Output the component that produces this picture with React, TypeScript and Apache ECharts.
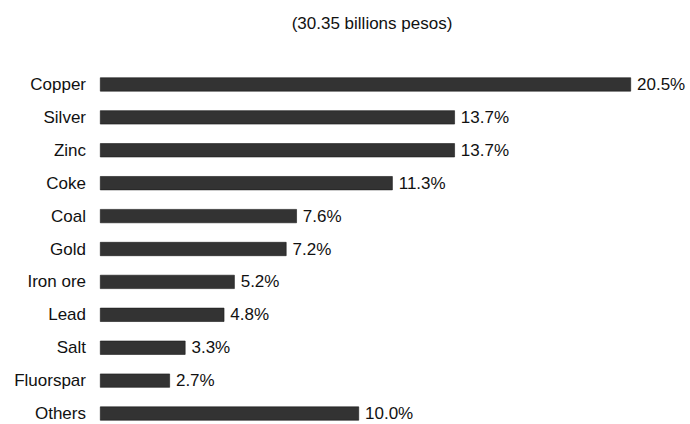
import React, { useEffect, useRef } from "react";
import * as echarts from "echarts";

const title = "(30.35 billions pesos)";
const categories = ["Copper", "Silver", "Zinc", "Coke", "Coal", "Gold", "Iron ore", "Lead", "Salt", "Fluorspar", "Others"];
const values = [20.5, 13.7, 13.7, 11.3, 7.6, 7.2, 5.2, 4.8, 3.3, 2.7, 10.0];

export default function App() {
  const ref = useRef<HTMLDivElement>(null);
  useEffect(() => {
    const chart = echarts.init(ref.current!, null, { renderer: "svg" });
    const font = "Liberation Sans, Arial, sans-serif";
    chart.setOption({
      animation: false,
      backgroundColor: "#fff",
      title: {
        text: title,
        left: 367,
        top: 10,
        textAlign: "center",
        textStyle: { fontFamily: font, fontSize: 17, fontWeight: "normal", color: "#111" },
      },
      grid: { left: 100, top: 68, width: 531, height: 362 },
      xAxis: { type: "value", min: 0, max: 20.5, show: false },
      yAxis: {
        type: "category",
        data: categories,
        inverse: true,
        axisLine: { show: false },
        axisTick: { show: false },
        splitLine: { show: false },
        axisLabel: { margin: 14, fontFamily: font, fontSize: 17, lineHeight: 14, color: "#111" },
      },
      series: [
        {
          type: "bar",
          data: values,
          barWidth: 14,
          itemStyle: { color: "#333333", borderColor: "#1a1a1a", borderWidth: 0.6 },
          label: {
            show: true,
            position: "right",
            distance: 6,
            fontFamily: font,
            fontSize: 17,
            lineHeight: 14,
            color: "#111",
            formatter: (p: any) => p.value.toFixed(1) + "%",
          },
        },
      ],
    });
    return () => chart.dispose();
  }, []);
  return (
    <div style={{ width: 690, height: 424, position: "absolute", left: 0, top: 0, overflow: "hidden" }}>
      <div ref={ref} style={{ width: 690, height: 440 }} />
    </div>
  );
}
